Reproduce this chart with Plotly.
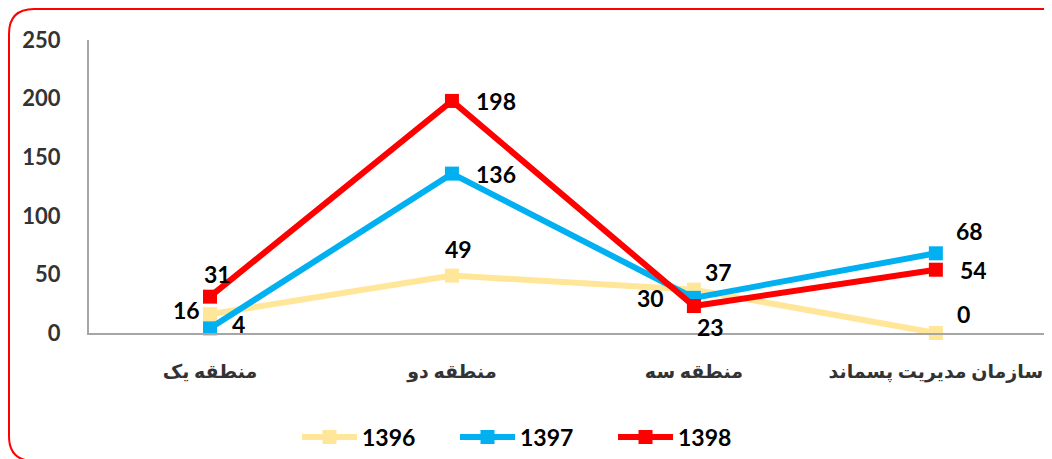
import plotly.graph_objects as go

categories = ["منطقه یک", "منطقه دو", "منطقه سه", "سازمان مدیریت پسماند"]
series_names = ["1396", "1397", "1398"]
values_1396 = [16, 49, 37, 0]
values_1397 = [4, 136, 30, 68]
values_1398 = [31, 198, 23, 54]
y_ticks = [0, 50, 100, 150, 200, 250]

colors = {"1396": "#FFE699", "1397": "#00B0F0", "1398": "#FF0000"}
data = {"1396": values_1396, "1397": values_1397, "1398": values_1398}
# label pixel offsets (xshift, yshift) per point
offsets = {
    "1396": [(-23, 4), (7, 27), (25, 18), (28, 19)],
    "1397": [(29, 4), (44, 0), (-43, 0), (34, 22)],
    "1398": [(8, 23), (44, 0), (17, -21), (38, 0)],
}

# page has an 8px body margin: figure coords = page coords - 8
OFF = 8
W, H = 1052 - OFF, 459 - OFF
ML, MR, MT = 89 - OFF, 0, 40 - OFF
MB = H - (333 - OFF)
PW, PH = W - ML - MR, H - MT - MB
FONT = "Lato, 'DejaVu Sans', sans-serif"

fig = go.Figure()
for name in series_names:
    fig.add_trace(go.Scatter(
        x=list(range(len(categories))), y=data[name], name=name,
        mode="lines+markers",
        line=dict(color=colors[name], width=6),
        marker=dict(symbol="square", size=14, color=colors[name]),
        cliponaxis=False,
    ))

annotations = []
for name in series_names:
    for i, v in enumerate(data[name]):
        dx, dy = offsets[name][i]
        annotations.append(dict(
            x=i, y=v, xref="x", yref="y", text=f"<b>{v}</b>", showarrow=False,
            xshift=dx, yshift=dy, font=dict(family=FONT, size=23, color="#000000"),
        ))

def px(x):
    return (x - OFF - ML) / PW

def py(y):
    return (H - MB - (y - OFF)) / PH

x0, y0, x1, y1, r = 9, 9, 1068, 461, 25
path = (
    f"M {px(x0 + r)},{py(y0)} L {px(x1 - r)},{py(y0)} "
    f"Q {px(x1)},{py(y0)} {px(x1)},{py(y0 + r)} L {px(x1)},{py(y1 - r)} "
    f"Q {px(x1)},{py(y1)} {px(x1 - r)},{py(y1)} L {px(x0 + r)},{py(y1)} "
    f"Q {px(x0)},{py(y1)} {px(x0)},{py(y1 - r)} L {px(x0)},{py(y0 + r)} "
    f"Q {px(x0)},{py(y0)} {px(x0 + r)},{py(y0)} Z"
)

fig.update_layout(
    width=W, height=H,
    margin=dict(l=ML, r=MR, t=MT, b=MB),
    paper_bgcolor="white", plot_bgcolor="white",
    font=dict(family=FONT, color="#333333"),
    showlegend=True,
    legend=dict(
        orientation="h", x=px(297), xanchor="left", y=py(437), yanchor="middle",
        font=dict(family=FONT, size=23, color="#000000", weight="bold"),
        entrywidth=88, entrywidthmode="pixels", itemwidth=55,
    ),
    xaxis=dict(
        range=[-0.5, 3.48], tickmode="array", tickvals=list(range(len(categories))),
        ticktext=[f"<b>{c}</b>" for c in categories],
        showgrid=False, zeroline=False, showline=True, linecolor="#A6A6A6", linewidth=2,
        ticks="", tickfont=dict(family=FONT, size=19, color="#333333"),
        ticklabelstandoff=20,
    ),
    yaxis=dict(
        range=[0, 250], tickmode="array", tickvals=y_ticks,
        ticktext=[f"<b>{t}</b>" for t in y_ticks],
        showgrid=False, zeroline=False, showline=True, linecolor="#A6A6A6", linewidth=2,
        ticks="", tickfont=dict(family=FONT, size=22, color="#333333"),
        ticklabelstandoff=22,
    ),
    annotations=annotations,
    shapes=[dict(type="path", xref="paper", yref="paper", path=path,
                 line=dict(color="#FF0000", width=2), layer="above")],
)

fig.write_html("out.html")
